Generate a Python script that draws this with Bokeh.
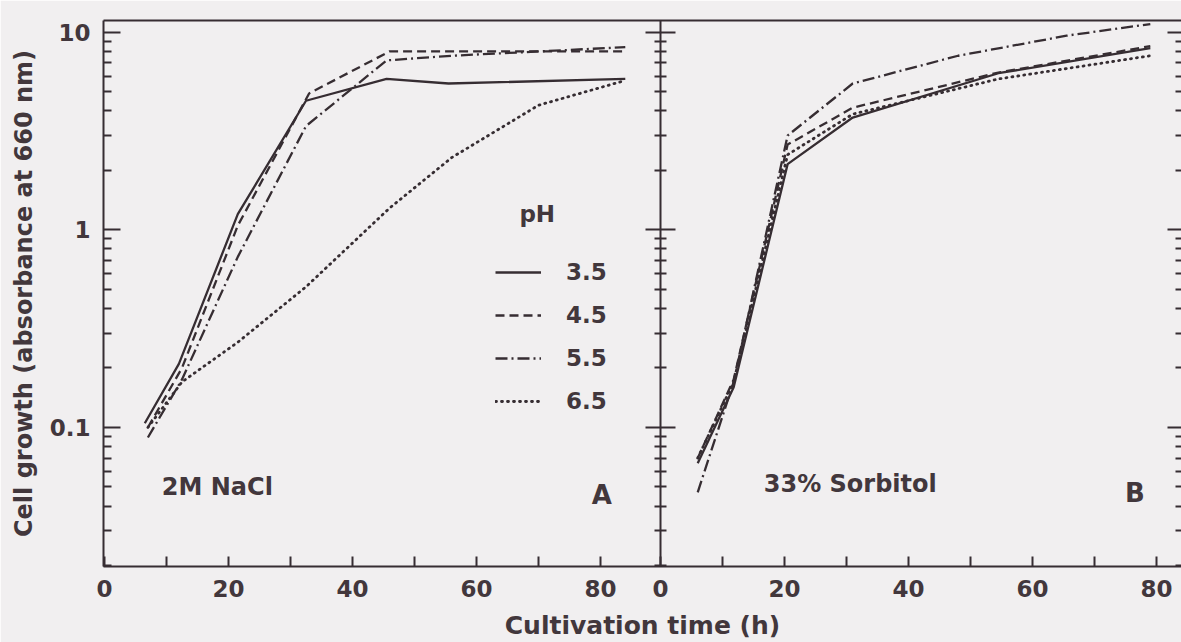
from bokeh.plotting import figure
from bokeh.models import (Range1d, LogAxis, LinearAxis, FixedTicker,
                          CustomJSTickFormatter, Label, Legend, LegendItem)
from bokeh.embed import file_html
from bokeh.resources import INLINE

# ---------------- data ----------------
PH_LABELS = ["3.5", "4.5", "5.5", "6.5"]

# Panel A: 2M NaCl  (time in h, absorbance at 660 nm)
NACL_T_35 = [6.5, 12, 21.5, 32.5, 45.5, 55.5, 84]
NACL_A_35 = [0.105, 0.21, 1.2, 4.5, 5.8, 5.5, 5.8]
NACL_T_45 = [7, 12.5, 21.5, 33, 46, 56, 84]
NACL_A_45 = [0.10, 0.20, 1.05, 4.9, 8.0, 8.0, 8.0]
NACL_T_55 = [7, 12.5, 21.5, 32.5, 45.5, 56, 84]
NACL_A_55 = [0.089, 0.175, 0.73, 3.35, 7.2, 7.6, 8.4]
NACL_T_65 = [7, 12.5, 21.5, 32.5, 46, 56, 70, 84]
NACL_A_65 = [0.10, 0.17, 0.27, 0.515, 1.29, 2.32, 4.27, 5.7]

# Panel B: 33% Sorbitol
SORB_T_35 = [6, 11.8, 20.5, 31, 54.5, 79]
SORB_A_35 = [0.066, 0.16, 2.15, 3.7, 6.2, 8.3]
SORB_T_45 = [6, 11.8, 20.5, 31, 54.5, 79]
SORB_A_45 = [0.07, 0.175, 2.7, 4.15, 6.25, 8.5]
SORB_T_55 = [6, 11.8, 20.5, 31, 48, 65.5, 79]
SORB_A_55 = [0.047, 0.17, 3.0, 5.5, 7.6, 9.6, 11.0]
SORB_T_65 = [6, 11.8, 20.5, 31, 54.5, 79]
SORB_A_65 = [0.07, 0.17, 2.4, 3.85, 5.8, 7.6]

X_TICKS = [0, 20, 40, 60, 80]
X_MINOR = [10, 30, 50, 70]
Y_TICKS = [0.1, 1, 10]
Y_MINOR = [m * 10.0 ** e for e in (-2, -1, 0) for m in range(2, 10)]

# ---------------- styling ----------------
BG = "#f1eff0"
INK = "#362d32"
TXT = "#42373c"
FONT = "DejaVu Sans"
DASHES = {"3.5": "solid", "4.5": "9 5", "5.5": "12 4 2 4", "6.5": "1 5"}

# x geometry: panel A spans [A_START, A_END]; panel B starts at its own 0 at the divider
A_START, A_END, B_END = -0.16, 89.68, 84.03
TOTAL = (A_END - A_START) + B_END
Y_BOTTOM, Y_TOP = 0.0198, 11.46

p = figure(width=1181, height=642,
           x_range=Range1d(A_START, A_START + TOTAL),
           y_range=Range1d(Y_BOTTOM, Y_TOP), y_axis_type="log",
           output_backend="svg", toolbar_location=None,
           min_border_left=103, min_border_right=0,
           min_border_top=20, min_border_bottom=76,
           background_fill_color=BG, border_fill_color=BG,
           outline_line_color=None)
p.extra_x_ranges = {"b": Range1d(-(A_END - A_START), B_END)}
p.grid.visible = False

# ---------------- curves ----------------
nacl = {"3.5": (NACL_T_35, NACL_A_35), "4.5": (NACL_T_45, NACL_A_45),
        "5.5": (NACL_T_55, NACL_A_55), "6.5": (NACL_T_65, NACL_A_65)}
sorb = {"3.5": (SORB_T_35, SORB_A_35), "4.5": (SORB_T_45, SORB_A_45),
        "5.5": (SORB_T_55, SORB_A_55), "6.5": (SORB_T_65, SORB_A_65)}

legend_items = []
for ph in PH_LABELS:
    dotted = ph == "6.5"
    kw = dict(line_color=INK, line_dash=DASHES[ph],
              line_width=2.8 if dotted else 2.3,
              line_cap="round" if dotted else "butt")
    t, a = nacl[ph]
    ra = p.line(t, a, **kw)
    t, a = sorb[ph]
    p.line(t, a, x_range_name="b", **kw)
    legend_items.append(LegendItem(label=ph, renderers=[ra]))

# ---------------- axes ----------------
xax = p.xaxis[0]
xax.ticker = FixedTicker(ticks=X_TICKS + [A_END + t for t in X_TICKS],
                         minor_ticks=X_MINOR + [A_END + t for t in X_MINOR])
xax.formatter = CustomJSTickFormatter(args=dict(b0=A_END), code="""
    const v = tick >= b0 - 1e-6 ? tick - b0 : tick;
    return Math.round(v).toString();
""")
xax.axis_label = "Cultivation time (h)"

yax = p.yaxis[0]
yax.ticker = FixedTicker(ticks=Y_TICKS, minor_ticks=Y_MINOR)
yax.formatter = CustomJSTickFormatter(
    code="return tick < 1 ? tick.toFixed(1) : tick.toFixed(0);")
yax.axis_label = "Cell growth (absorbance at 660 nm)"

for ax in (xax, yax):
    ax.axis_line_color = INK
    ax.axis_line_width = 2
    ax.major_tick_line_color = INK
    ax.minor_tick_line_color = INK
    ax.major_tick_line_width = 2
    ax.minor_tick_line_width = 2
    ax.major_tick_out = 0
    ax.minor_tick_out = 0
    ax.major_label_text_font = FONT
    ax.major_label_text_font_style = "bold"
    ax.major_label_text_font_size = "23px"
    ax.major_label_text_color = TXT
    ax.axis_label_text_font = FONT
    ax.axis_label_text_font_style = "bold"
    ax.axis_label_text_color = TXT

xax.major_tick_in = 10
xax.minor_tick_in = 10
xax.major_label_standoff = 13
xax.axis_label_standoff = 11
xax.axis_label_text_font_size = "25px"

yax.major_tick_in = 17
yax.minor_tick_in = 8
yax.major_label_standoff = 13
yax.axis_label_standoff = 9
yax.axis_label_text_font_size = "24px"

blank = CustomJSTickFormatter(code="return '';")

# right edge of panel B: inward ticks only
right_ax = LogAxis(ticker=FixedTicker(ticks=Y_TICKS, minor_ticks=Y_MINOR),
                   formatter=blank, major_label_standoff=0,
                   axis_line_color=None,
                   major_tick_in=14, major_tick_out=0,
                   minor_tick_in=6, minor_tick_out=0,
                   major_tick_line_color=INK, minor_tick_line_color=INK,
                   major_tick_line_width=2, minor_tick_line_width=2)
p.add_layout(right_ax, "right")

# divider between the two panels, ticks on both sides
divider = LogAxis(fixed_location=A_END,
                  ticker=FixedTicker(ticks=Y_TICKS, minor_ticks=Y_MINOR),
                  formatter=blank, major_label_standoff=0,
                  axis_line_color=INK, axis_line_width=2,
                  major_tick_in=15, major_tick_out=15,
                  minor_tick_in=6, minor_tick_out=6,
                  major_tick_line_color=INK, minor_tick_line_color=INK,
                  major_tick_line_width=2, minor_tick_line_width=2)
p.add_layout(divider, "right")

# top frame line
top_ax = LinearAxis(ticker=FixedTicker(ticks=[]), formatter=blank,
                    major_label_standoff=0, axis_line_color=INK,
                    axis_line_width=2, major_tick_in=0, major_tick_out=0,
                    minor_tick_in=0, minor_tick_out=0)
p.add_layout(top_ax, "above")

# ---------------- annotations ----------------
def label(x, y, text, size, range_name="default"):
    p.add_layout(Label(x=x, y=y, text=text, x_range_name=range_name,
                       text_align="center", text_baseline="middle",
                       text_font=FONT, text_font_style="bold",
                       text_font_size=size, text_color=TXT))

label(18.2, 0.0498, "2M NaCl", "24px")
label(80.2, 0.0454, "A", "26px")
label(30.6, 0.0515, "33% Sorbitol", "24px", "b")
label(76.5, 0.0464, "B", "26px", "b")
label(69.8, 1.20, "pH", "23px")

legend = Legend(items=legend_items, location=(392, 152),
                orientation="vertical", background_fill_alpha=0,
                border_line_color=None, padding=0, margin=0,
                glyph_width=46, glyph_height=20, label_standoff=25,
                spacing=17, label_text_font=FONT,
                label_text_font_style="bold", label_text_font_size="23px",
                label_text_color=TXT)
p.add_layout(legend)

open("out.html", "w").write(file_html(p, INLINE))
